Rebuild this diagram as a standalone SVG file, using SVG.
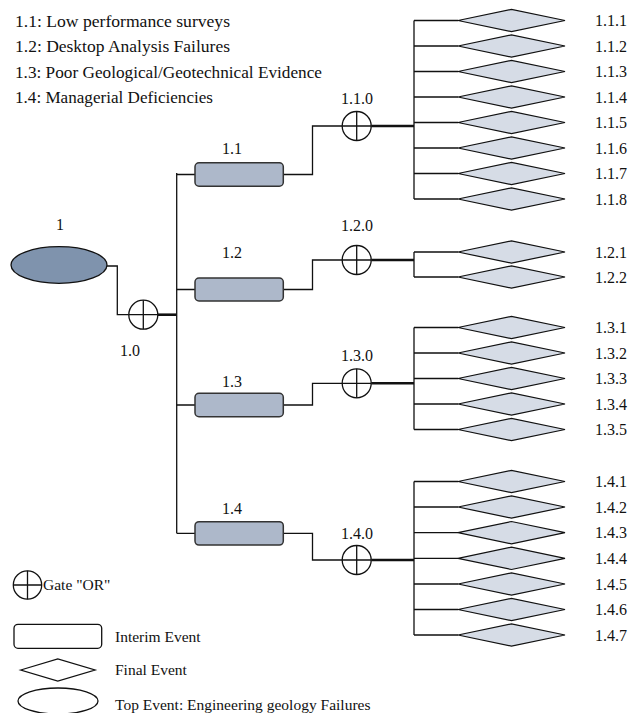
<svg xmlns="http://www.w3.org/2000/svg" width="639" height="713" viewBox="0 0 639 713">
<style>
text{font-family:"Liberation Serif","Times New Roman",serif;fill:#111;font-size:16px}
.lg{font-size:16.5px}
.bl{font-size:15.5px}
.mid{text-anchor:middle}
.ln{fill:none;stroke:#111;stroke-width:1.3}
.thick{fill:none;stroke:#111;stroke-width:2.6}
.box{fill:#adb8ca;stroke:#333;stroke-width:1.5}
.dia{fill:#d6dce6;stroke:#111;stroke-width:1.2}
.gate{fill:#fff;stroke:#111;stroke-width:1.3}
.top{fill:#7f93ad;stroke:#111;stroke-width:1.3}
.leg{fill:#fff;stroke:#111;stroke-width:1.3}
</style>
<defs>
<g id="or"><circle r="14.5" class="gate"/><path d="M-14.5 0H14.5M0 -14.5V14.5" class="ln"/></g>
<polygon id="dm" points="-53.5,0 0,-11.2 53.5,0 0,11.2" class="dia"/>
</defs>
<g id="legend-text">
<text class="lg" x="15" y="27" textLength="215" lengthAdjust="spacingAndGlyphs">1.1:  Low performance surveys</text>
<text class="lg" x="15" y="52" textLength="215" lengthAdjust="spacingAndGlyphs">1.2:  Desktop Analysis Failures</text>
<text class="lg" x="15" y="78" textLength="307" lengthAdjust="spacingAndGlyphs">1.3:  Poor Geological/Geotechnical Evidence</text>
<text class="lg" x="15" y="103" textLength="198" lengthAdjust="spacingAndGlyphs">1.4:  Managerial Deficiencies</text>
</g>
<g id="connectors">
<path class="ln" d="M107 266H117.3V314.7H128.8"/>
<path class="thick" d="M157.8 314.7H176.7"/>
<path class="ln" d="M176.7 173V533.3"/>
<path class="ln" d="M176.7 174.5H195M176.7 289.5H195M176.7 405H195M176.7 533.3H195"/>
<path class="ln" d="M283.3 174.5H312.5V126H342.2"/>
<path class="ln" d="M283.3 289.5H312.5V260H342.2"/>
<path class="ln" d="M283.3 405H312.5V383.3H342.2"/>
<path class="ln" d="M283.3 533.3H312.5V560H342.2"/>
<path class="thick" d="M371.2 126H414M371.2 260H414M371.2 383.3H414M371.2 560H414"/>
<path class="ln" d="M414 20.5V199M414 252V277M414 327.5V429.5M414 481.5V635"/>
<path class="ln" d="M414 20.5H458M414 46H458M414 71.5H458M414 97H458M414 122.5H458M414 148H458M414 173.5H458M414 199H458"/>
<path class="ln" d="M414 252H458M414 277H458"/>
<path class="ln" d="M414 327.5H458M414 353H458M414 378.5H458M414 404H458M414 429.5H458"/>
<path class="ln" d="M414 481.5H458M414 507H458M414 532.7H458M414 558.3H458M414 584H458M414 609.5H458M414 635H458"/>
</g>
<g id="n1"><ellipse cx="59" cy="265" rx="48" ry="18.3" class="top"/><text class="mid" x="60" y="230">1</text></g>
<g id="n1.0"><use href="#or" x="143.3" y="314.7"/><text class="mid" x="130" y="356">1.0</text></g>
<g id="n1.1"><rect x="195" y="162.8" width="88.3" height="23.4" rx="4" class="box"/><text class="mid" x="232" y="154">1.1</text></g>
<g id="n1.2"><rect x="195" y="278" width="88.3" height="23" rx="4" class="box"/><text class="mid" x="232" y="258">1.2</text></g>
<g id="n1.3"><rect x="195" y="393.3" width="88.3" height="23.4" rx="4" class="box"/><text class="mid" x="232" y="387">1.3</text></g>
<g id="n1.4"><rect x="195" y="521.7" width="88.3" height="23.4" rx="4" class="box"/><text class="mid" x="232" y="514">1.4</text></g>
<g id="n1.1.0"><use href="#or" x="356.7" y="126"/><text class="mid" x="357" y="104">1.1.0</text></g>
<g id="n1.2.0"><use href="#or" x="356.7" y="260"/><text class="mid" x="357" y="231">1.2.0</text></g>
<g id="n1.3.0"><use href="#or" x="356.7" y="383.3"/><text class="mid" x="357" y="361">1.3.0</text></g>
<g id="n1.4.0"><use href="#or" x="356.7" y="560"/><text class="mid" x="357" y="539">1.4.0</text></g>
<g id="n1.1.1"><use href="#dm" x="511.5" y="20.5"/><text x="595" y="26">1.1.1</text></g>
<g id="n1.1.2"><use href="#dm" x="511.5" y="46"/><text x="595" y="51.5">1.1.2</text></g>
<g id="n1.1.3"><use href="#dm" x="511.5" y="71.5"/><text x="595" y="77">1.1.3</text></g>
<g id="n1.1.4"><use href="#dm" x="511.5" y="97"/><text x="595" y="102.5">1.1.4</text></g>
<g id="n1.1.5"><use href="#dm" x="511.5" y="122.5"/><text x="595" y="128">1.1.5</text></g>
<g id="n1.1.6"><use href="#dm" x="511.5" y="148"/><text x="595" y="153.5">1.1.6</text></g>
<g id="n1.1.7"><use href="#dm" x="511.5" y="173.5"/><text x="595" y="179">1.1.7</text></g>
<g id="n1.1.8"><use href="#dm" x="511.5" y="199"/><text x="595" y="204.5">1.1.8</text></g>
<g id="n1.2.1"><use href="#dm" x="511.5" y="252"/><text x="595" y="257.5">1.2.1</text></g>
<g id="n1.2.2"><use href="#dm" x="511.5" y="277"/><text x="595" y="282.5">1.2.2</text></g>
<g id="n1.3.1"><use href="#dm" x="511.5" y="327.5"/><text x="595" y="333">1.3.1</text></g>
<g id="n1.3.2"><use href="#dm" x="511.5" y="353"/><text x="595" y="358.5">1.3.2</text></g>
<g id="n1.3.3"><use href="#dm" x="511.5" y="378.5"/><text x="595" y="384">1.3.3</text></g>
<g id="n1.3.4"><use href="#dm" x="511.5" y="404"/><text x="595" y="409.5">1.3.4</text></g>
<g id="n1.3.5"><use href="#dm" x="511.5" y="429.5"/><text x="595" y="435">1.3.5</text></g>
<g id="n1.4.1"><use href="#dm" x="511.5" y="481.5"/><text x="595" y="487">1.4.1</text></g>
<g id="n1.4.2"><use href="#dm" x="511.5" y="507"/><text x="595" y="512.5">1.4.2</text></g>
<g id="n1.4.3"><use href="#dm" x="511.5" y="532.7"/><text x="595" y="538.2">1.4.3</text></g>
<g id="n1.4.4"><use href="#dm" x="511.5" y="558.3"/><text x="595" y="563.8">1.4.4</text></g>
<g id="n1.4.5"><use href="#dm" x="511.5" y="584"/><text x="595" y="589.5">1.4.5</text></g>
<g id="n1.4.6"><use href="#dm" x="511.5" y="609.5"/><text x="595" y="615">1.4.6</text></g>
<g id="n1.4.7"><use href="#dm" x="511.5" y="635"/><text x="595" y="640.5">1.4.7</text></g>
<g id="legend">
<circle cx="27.5" cy="585" r="14.2" class="leg"/><path class="ln" d="M13.3 585H41.7M27.5 570.8V599.2"/>
<text class="bl" x="43" y="590">Gate "OR"</text>
<rect x="14" y="624.3" width="87.7" height="24" rx="4" class="leg"/>
<text class="bl" x="115" y="642">Interim Event</text>
<polygon points="20.7,670 57.8,659 95,670 57.8,681" class="leg"/>
<text class="bl" x="115" y="675">Final Event</text>
<ellipse cx="58" cy="701" rx="40" ry="13" class="leg"/>
<text class="bl" x="115" y="710">Top Event: Engineering geology Failures</text>
</g>
</svg>
